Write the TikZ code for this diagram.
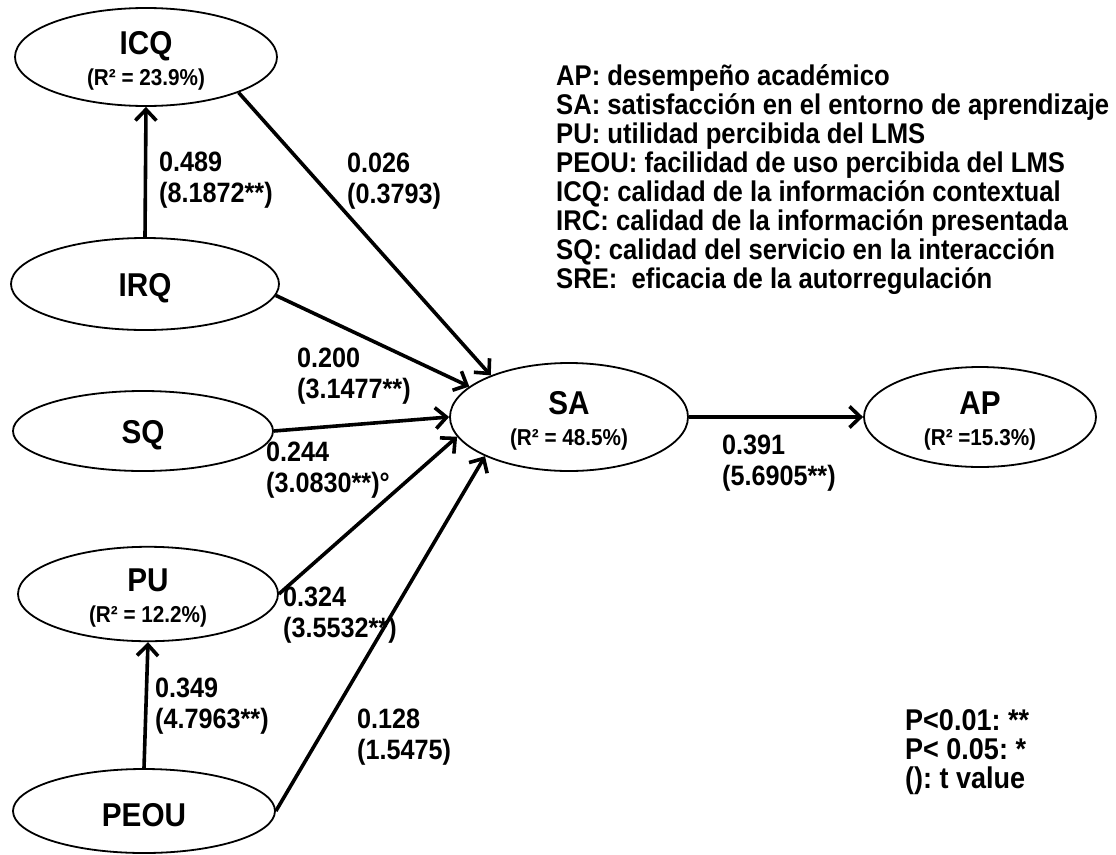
\documentclass[tikz,border=0pt]{standalone}
\usepackage{fontspec}
\setmainfont{Liberation Sans}[FakeStretch=0.9]
\usetikzlibrary{shapes.geometric,arrows.meta}

% name of a latent variable and its R^2 line
\newcommand{\lvname}[1]{{\fontsize{33}{34}\selectfont\rule{0pt}{31pt}#1}}
\newcommand{\lvrsq}[1]{{\fontsize{23}{31}\selectfont #1}}

\begin{document}
\frenchspacing
\begin{tikzpicture}[x=1pt,y=-1pt,
  latent/.style={ellipse, draw, line width=1.8pt, inner sep=0pt, align=center,
                 font=\bfseries\fontsize{23}{31}\selectfont},
  effect/.style={line width=3.6pt,
                 -{Straight Barb[length=11pt,width=21pt,line width=3.6pt]}},
  coef/.style={anchor=west, align=left, inner sep=0pt,
               font=\bfseries\fontsize{28}{30.5}\selectfont},
  legline/.style={anchor=base west, inner sep=0pt,
                  font=\bfseries\fontsize{28.5}{30}\selectfont},
  pline/.style={anchor=base west, inner sep=0pt,
                font=\bfseries\fontsize{30}{30}\selectfont}]

\useasboundingbox (0,0) rectangle (1116,854);

% latent variables
\node[latent, minimum width=262pt, minimum height=98pt] (ICQ) at (146,57)
  {\lvname{ICQ}\\\lvrsq{(R² = 23.9\%)}};
\node[latent, minimum width=268pt, minimum height=92pt] (IRQ) at (145,284)
  {\lvname{IRQ}};
\node[latent, minimum width=260pt, minimum height=80pt] (SQ) at (143,431)
  {\lvname{SQ}};
\node[latent, minimum width=238pt, minimum height=108pt] (SA) at (569,417)
  {\lvname{SA}\\\lvrsq{(R² = 48.5\%)}};
\node[latent, minimum width=232pt, minimum height=100pt] (AP) at (980,417)
  {\lvname{AP}\\\lvrsq{(R² =15.3\%)}};
\node[latent, minimum width=260pt, minimum height=92pt] (PU) at (148,594)
  {\lvname{PU}\\\lvrsq{(R² = 12.2\%)}};
\node[latent, minimum width=262pt, minimum height=84pt] (PEOU) at (144,811)
  {\lvname{PEOU}};

% structural paths
\draw[effect] (IRQ.north) -- (ICQ.south);
\draw[effect] (PEOU.north) -- (PU.south);
\draw[effect] (ICQ.-21) -- (SA.152);
\draw[effect] (IRQ.-5) -- (SA.163);
\draw[effect] (SQ.east) -- (SA.west);
\draw[effect] (PU.east) -- (SA.190);
\draw[effect] (PEOU.east) -- (SA.205);
\draw[effect] (SA.east) -- (AP.west);

% path coefficients (t values)
\node[coef] (c489) at (159,180) {0.489\\(8.1872**)};
\node[coef] (c026) at (347,181) {0.026\\(0.3793)};
\node[coef] (c200) at (297,376) {0.200\\(3.1477**)};
\node[coef] (c244) at (266,470) {0.244\\(3.0830**)°};
\node[coef] (c324) at (283,615) {0.324\\(3.5532**)};
\node[coef] (c349) at (155,706) {0.349\\(4.7963**)};
\node[coef] (c128) at (357,737) {0.128\\(1.5475)};
\node[coef] (c391) at (722,463) {0.391\\(5.6905**)};

% abbreviations
\node[legline] (leg1) at (556,85)  {AP: desempeño académico};
\node[legline] (leg2) at (556,114) {SA: satisfacción en el entorno de aprendizaje};
\node[legline] (leg3) at (556,143) {PU: utilidad percibida del LMS};
\node[legline] (leg4) at (556,172) {PEOU: facilidad de uso percibida del LMS};
\node[legline] (leg5) at (556,201) {ICQ: calidad de la información contextual};
\node[legline] (leg6) at (556,230) {IRC: calidad de la información presentada};
\node[legline] (leg7) at (556,259) {SQ: calidad del servicio en la interacción};
\node[legline] (leg8) at (556,288) {SRE:\ \ eficacia de la autorregulación};

% significance key
\node[pline] (p1) at (905,730) {P<0.01: **};
\node[pline] (p2) at (905,759) {P< 0.05: *};
\node[pline] (p3) at (905,788) {(): t value};
\end{tikzpicture}
\end{document}
